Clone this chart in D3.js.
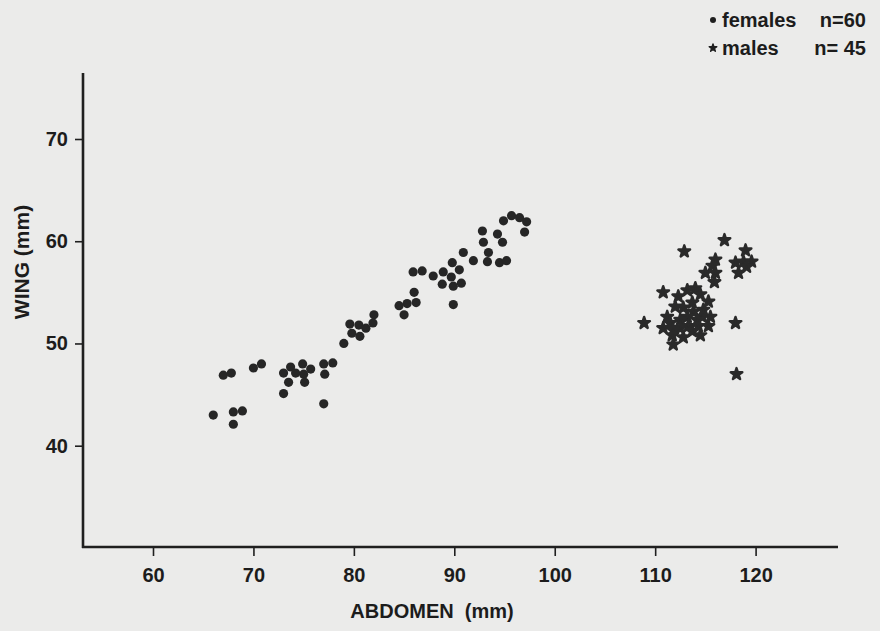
<!DOCTYPE html>
<html>
<head>
<meta charset="utf-8">
<script src="https://cdn.jsdelivr.net/npm/d3@7"></script>
<style>
  body { margin: 0; background: #ebebea; }
  svg { display: block; }
  text { font-family: "Liberation Sans", Arial, sans-serif; font-weight: bold; fill: #1c1c1c; }
</style>
</head>
<body>
<svg id="chart" width="880" height="631"></svg>
<script>
// females: abdomen and wing length (mm)
const femaleAbdomen = [67.0, 67.8, 70.0, 70.8, 73.0, 73.7, 74.2, 74.9, 75.0, 75.7,
  73.5, 75.1, 73.0, 77.0, 77.9, 77.1, 77.0, 66.0, 68.0, 68.9,
  68.0, 86.0, 85.3, 86.2, 84.5, 85.0, 82.0, 81.9, 81.2, 80.5,
  79.6, 79.8, 80.6, 79.0, 90.9, 91.9, 89.8, 90.5, 85.9, 86.8,
  87.9, 88.9, 89.7, 88.8, 89.9, 90.7, 89.9, 95.7, 96.5, 97.2,
  94.9, 97.0, 92.8, 94.3, 92.9, 94.8, 93.4, 93.3, 94.5, 95.2];
const femaleWing = [46.9, 47.1, 47.6, 48.0, 47.1, 47.7, 47.1, 48.0, 47.0, 47.5,
  46.2, 46.2, 45.1, 48.0, 48.1, 47.0, 44.1, 43.0, 43.3, 43.4,
  42.1, 55.0, 53.9, 54.0, 53.7, 52.8, 52.8, 52.0, 51.5, 51.8,
  51.9, 51.0, 50.7, 50.0, 58.9, 58.1, 57.9, 57.2, 57.0, 57.1,
  56.6, 57.0, 56.5, 55.8, 55.6, 55.9, 53.8, 62.5, 62.3, 61.9,
  62.0, 60.9, 61.0, 60.7, 59.9, 59.9, 58.9, 58.0, 57.9, 58.1];

// males
const maleAbdomen = [116.9, 112.9, 119.0, 116.0, 115.7, 115.0, 116.0, 115.9, 118.0, 118.8,
  119.6, 118.3, 119.1, 110.8, 108.9, 118.0, 118.1, 114.0, 113.2, 112.3,
  112.0, 111.2, 110.8, 111.7, 111.8, 112.8, 113.7, 114.5, 115.3, 115.5,
  115.3, 114.5, 113.7, 113.8, 114.7, 113.2, 112.5, 113.3, 112.5, 114.3,
  112.8, 114.8, 111.5, 111.8, 114.2];
const maleWing = [60.1, 59.0, 59.1, 58.2, 57.6, 56.9, 56.9, 56.0, 57.9, 58.0,
  58.0, 56.9, 57.5, 55.0, 52.0, 52.0, 47.0, 55.4, 55.2, 54.6,
  53.6, 52.6, 51.5, 50.8, 49.9, 50.6, 51.2, 50.8, 51.7, 52.6,
  54.1, 54.8, 54.0, 53.1, 52.6, 52.6, 52.3, 51.7, 51.5, 51.7,
  53.5, 53.3, 52.0, 51.3, 52.3];

const xTicks = [60, 70, 80, 90, 100, 110, 120];
const yTicks = [40, 50, 60, 70];
const legendRows = [
  { label: "females", n: "n=60", shape: "dot" },
  { label: "males", n: "n= 45", shape: "star" }
];

const svg = d3.select("#chart");
const ink = "#1f1f1f";

const x = d3.scaleLinear().domain([60, 120]).range([153, 755.6]);
const y = d3.scaleLinear().domain([40, 70]).range([445.7, 139]);

const axLeft = 83, axBottom = 547, axTop = 73, axRight = 838;

// axis lines
svg.append("line")
  .attr("x1", axLeft).attr("x2", axLeft).attr("y1", axTop).attr("y2", axBottom + 1)
  .attr("stroke", ink).attr("stroke-width", 2.6);
svg.append("line")
  .attr("x1", axLeft - 1).attr("x2", axRight).attr("y1", axBottom).attr("y2", axBottom)
  .attr("stroke", ink).attr("stroke-width", 2.6);

// x ticks
const xAxis = svg.append("g")
  .attr("transform", `translate(0,${axBottom})`)
  .call(d3.axisBottom(x).tickValues(xTicks).tickSize(9).tickPadding(12));
xAxis.select(".domain").remove();
xAxis.selectAll(".tick line").attr("stroke", ink).attr("stroke-width", 1.6);
xAxis.selectAll(".tick text")
  .attr("font-size", 20).attr("font-family", "Liberation Sans, Arial, sans-serif")
  .attr("font-weight", "bold").attr("fill", ink);

// y ticks
const yAxis = svg.append("g")
  .attr("transform", `translate(${axLeft},0)`)
  .call(d3.axisLeft(y).tickValues(yTicks).tickSize(8).tickPadding(7));
yAxis.select(".domain").remove();
yAxis.selectAll(".tick line").attr("stroke", ink).attr("stroke-width", 1.6);
yAxis.selectAll(".tick text")
  .attr("font-size", 20).attr("font-family", "Liberation Sans, Arial, sans-serif")
  .attr("font-weight", "bold").attr("fill", ink);

// axis titles
svg.append("text")
  .attr("x", 432).attr("y", 618)
  .attr("text-anchor", "middle")
  .attr("font-size", 20)
  .style("white-space", "pre")
  .text("ABDOMEN  (mm)");

svg.append("text")
  .attr("transform", "translate(29,262) rotate(-90)")
  .attr("text-anchor", "middle")
  .attr("font-size", 21)
  .text("WING (mm)");

// females
const females = femaleAbdomen.map((a, i) => ({ a, w: femaleWing[i] }));
svg.append("g").selectAll("circle")
  .data(females)
  .join("circle")
  .attr("cx", d => x(d.a))
  .attr("cy", d => y(d.w))
  .attr("r", 4.6)
  .attr("fill", "#262626");

// males
const star = d3.symbol().type(d3.symbolStar).size(42);
const males = maleAbdomen.map((a, i) => ({ a, w: maleWing[i] }));
svg.append("g").selectAll("path")
  .data(males)
  .join("path")
  .attr("d", star)
  .attr("transform", d => `translate(${x(d.a)},${y(d.w)})`)
  .attr("fill", "#2a2a2a")
  .attr("stroke", "#2a2a2a")
  .attr("stroke-width", 2.4)
  .attr("stroke-linejoin", "round");

// legend
const legend = svg.append("g");
legendRows.forEach((r, i) => {
  const cy = 20 + i * 28;
  if (r.shape === "dot") {
    legend.append("circle").attr("cx", 713).attr("cy", cy).attr("r", 3).attr("fill", ink);
  } else {
    legend.append("path")
      .attr("d", d3.symbol().type(d3.symbolStar).size(18)())
      .attr("transform", `translate(713,${cy})`)
      .attr("fill", ink).attr("stroke", ink).attr("stroke-width", 1.4).attr("stroke-linejoin", "round");
  }
  legend.append("text").attr("x", 722).attr("y", cy + 7).attr("font-size", 20).text(r.label);
  legend.append("text").attr("x", 866).attr("y", cy + 7).attr("font-size", 20)
    .attr("text-anchor", "end").text(r.n);
});
</script>
</body>
</html>
